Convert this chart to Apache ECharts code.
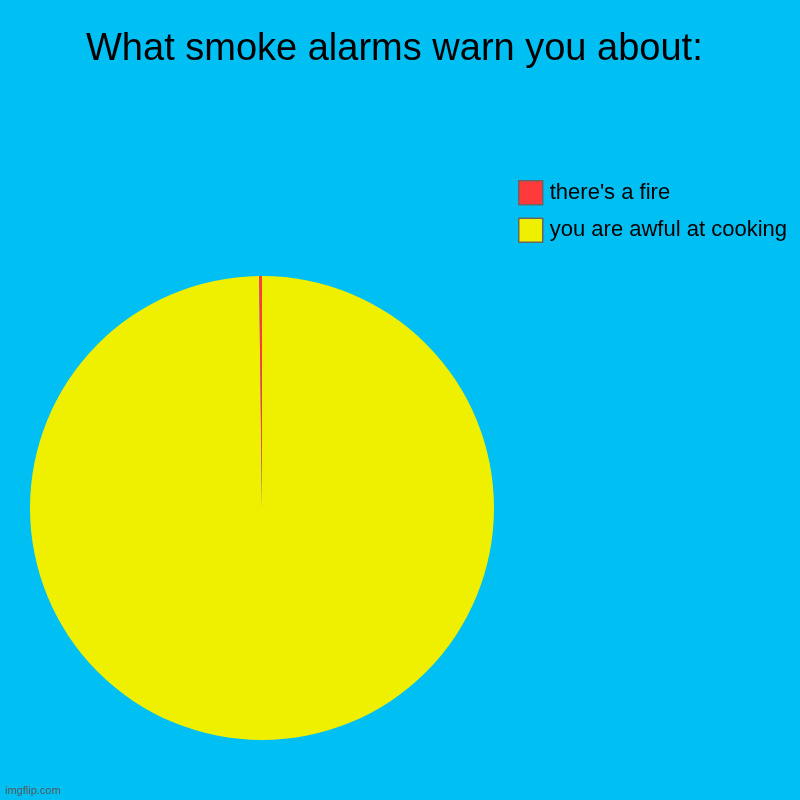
<!DOCTYPE html>
<html>
<head>
<meta charset="utf-8">
<script src="https://cdn.jsdelivr.net/npm/echarts@6/dist/echarts.min.js"></script>
<style>html,body{margin:0;padding:0;background:#00bff3;}#c{width:800px;height:800px;}</style>
</head>
<body>
<div id="c"></div>
<script>
var titleText = 'What smoke alarms warn you about:';
var categories = ["there's a fire", 'you are awful at cooking'];
var values = [1, 500];
var colors = ['#ff3a3a', '#eff000'];

// pie order: draw cooking first so the tiny fire slice ends at 12 o'clock
var pieOrder = [1, 0];
var pieData = pieOrder.map(function (i) {
  return { name: categories[i], value: values[i], itemStyle: { color: colors[i] } };
});

var chart = echarts.init(document.getElementById('c'));
chart.setOption({
  animation: false,
  backgroundColor: '#00bff3',
  textStyle: { fontFamily: 'Liberation Sans, Arial, sans-serif' },
  title: [
    { text: titleText, left: 81, top: 26,
      textStyle: { fontSize: 38, fontWeight: 'normal', color: '#000', fontFamily: 'Liberation Sans' } },
    { text: 'imgflip.com', left: 0, top: 780,
      textStyle: { fontSize: 11, fontWeight: 'normal', color: '#555', fontFamily: 'Liberation Sans' } }
  ],
  legend: {
    orient: 'vertical',
    left: 513, top: 175,
    itemWidth: 24, itemHeight: 24, itemGap: 12,
    icon: 'rect',
    data: categories,
    itemStyle: { borderColor: '#666', borderWidth: 1.5 },
    textStyle: { fontSize: 22, color: '#000', fontFamily: 'Liberation Sans', padding: [0, 0, 0, 2] }
  },
  series: [{
    type: 'pie',
    center: [262, 508],
    radius: 232,
    startAngle: 90,
    clockwise: true,
    label: { show: false },
    labelLine: { show: false },
    emphasis: { disabled: true },
    itemStyle: { borderWidth: 0 },
    data: pieData
  }]
});
</script>
</body>
</html>
